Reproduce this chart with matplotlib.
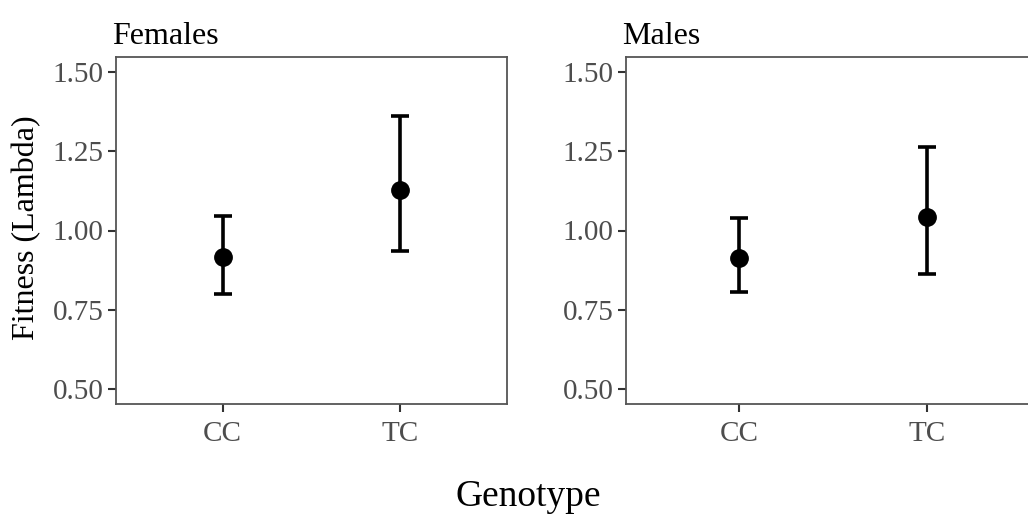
import matplotlib.pyplot as plt

plt.rcParams['font.family'] = ['Liberation Serif', 'DejaVu Serif']

# data
genotypes = ['CC', 'TC']
panels = ['Females', 'Males']
female_mean = [0.915, 1.127]
female_lower = [0.798, 0.934]
female_upper = [1.045, 1.361]
male_mean = [0.913, 1.043]
male_lower = [0.806, 0.864]
male_upper = [1.039, 1.263]

yticks = [0.50, 0.75, 1.00, 1.25, 1.50]

fig = plt.figure(figsize=(10.28, 5.18), dpi=100)
ax_f = fig.add_axes([116 / 1028, 1 - 404 / 518, 391 / 1028, 347 / 518])
ax_m = fig.add_axes([626 / 1028, 1 - 404 / 518, 414 / 1028, 347 / 518])

series = [(female_mean, female_lower, female_upper),
          (male_mean, male_lower, male_upper)]

for ax, title, (mean, lower, upper) in zip([ax_f, ax_m], panels, series):
    x = range(len(genotypes))
    err = [[m - lo for m, lo in zip(mean, lower)],
           [up - m for m, up in zip(mean, upper)]]
    ax.errorbar(x, mean, yerr=err, fmt='o', color='black', ms=12.5,
                elinewidth=2.6, capsize=6.5, capthick=2.6)
    ax.set_xlim(-0.6, 1.6)
    ax.set_ylim(0.452, 1.548)
    ax.set_xticks(list(x))
    ax.set_xticklabels(genotypes)
    ax.set_yticks(yticks)
    ax.set_yticklabels([f'{v:.2f}' for v in yticks])
    ax.tick_params(colors='#333333', labelcolor='#4d4d4d', labelsize=21,
                   length=6, width=1.5, pad=3)
    ax.tick_params(axis='x', pad=6)
    for s in ax.spines.values():
        s.set_color('#555555')
        s.set_linewidth(1.3)
    ax.set_title(title, loc='left', fontsize=23, pad=9, x=-0.01)

fig.text(27 / 1028, 1 - 228 / 518, 'Fitness (Lambda)', rotation=90,
         ha='center', va='center', fontsize=23)
fig.text(528 / 1028, 1 - 497 / 518, 'Genotype', ha='center', va='center',
         fontsize=27)

fig.savefig('out.png', dpi=100)
